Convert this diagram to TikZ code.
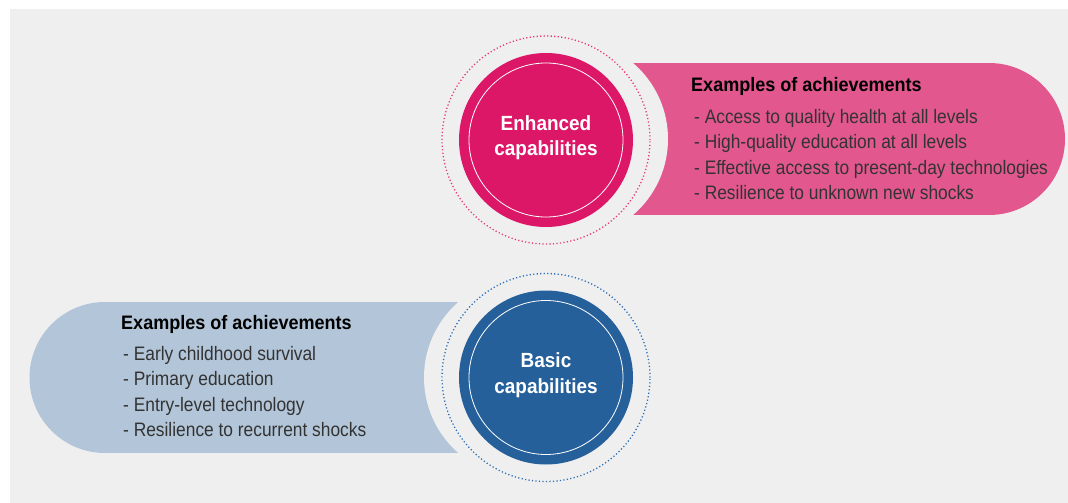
\documentclass[tikz,border=0pt]{standalone}
\usepackage{fontspec}
\setmainfont{Liberation Sans}[FakeStretch=0.89, BoldFeatures={FakeStretch=0.925}]
\definecolor{bggray}{HTML}{EFEFEF}
\definecolor{pinkcore}{HTML}{DD1768}
\definecolor{pinkpill}{HTML}{E2578E}
\definecolor{pinkdot}{HTML}{E5396E}
\definecolor{bluecore}{HTML}{26609B}
\definecolor{bluepill}{HTML}{B3C5D8}
\definecolor{bluedot}{HTML}{2B6FB6}
\definecolor{itemtext}{HTML}{333333}
\begin{document}
\begin{tikzpicture}[x=1pt,y=-1pt,
  ring/.style={circle, minimum size=208pt, inner sep=0pt, line width=1.3pt, dash pattern=on 1.2pt off 2.3pt},
  core/.style={circle, minimum size=174pt, inner sep=0pt},
  innerring/.style={circle, minimum size=154pt, inner sep=0pt, draw=white, line width=0.8pt},
  corelabel/.style={text=white, font=\fontsize{20.5}{25.5}\selectfont\bfseries, align=center, inner sep=0pt},
  heading/.style={anchor=base west, inner sep=0pt, font=\fontsize{19.5}{24}\selectfont\bfseries, text=black},
  item/.style={anchor=base west, inner sep=0pt, font=\fontsize{19.5}{24}\selectfont, text=itemtext}]
\useasboundingbox (0,0) rectangle (1068,503);
\fill[bggray] (10,9) rectangle (1068,503);
% pink pill
\fill[pinkpill] (560,63) rectangle (989,215);
\fill[pinkpill] (989,139) circle[radius=76pt];
\fill[bggray] (568,139) circle[radius=100pt];
% blue pill
\fill[bluepill] (105,302) rectangle (530,453);
\fill[bluepill] (105,377.5) circle[radius=75.5pt];
\fill[bggray] (524,377.5) circle[radius=100pt];
% enhanced circle
\node[ring, draw=pinkdot] (enhring) at (546,140) {};
\node[core, fill=pinkcore] (enh) at (546,140) {};
\node[innerring] (enhinner) at (546,140) {};
\node[corelabel] (enhlabel) at (546,137.5) {Enhanced\\capabilities};
% basic circle
\node[ring, draw=bluedot] (basring) at (546,377.5) {};
\node[core, fill=bluecore] (bas) at (546,377.5) {};
\node[innerring] (basinner) at (546,377.5) {};
\node[corelabel] (baslabel) at (546,375) {Basic\\capabilities};
% pink texts
\node[heading] (enhhead) at (691,92) {Examples of achievements};
\node[item] (enh1) at (694,123) {- Access to quality health at all levels};
\node[item] (enh2) at (694,148.5) {- High-quality education at all levels};
\node[item] (enh3) at (694,174) {- Effective access to present-day technologies};
\node[item] (enh4) at (694,199.5) {- Resilience to unknown new shocks};
% blue texts
\node[heading] (bashead) at (121,329) {Examples of achievements};
\node[item] (bas1) at (123,360) {- Early childhood survival};
\node[item] (bas2) at (123,385.5) {- Primary education};
\node[item] (bas3) at (123,411) {- Entry-level technology};
\node[item] (bas4) at (123,436.5) {- Resilience to recurrent shocks};
\end{tikzpicture}
\end{document}
